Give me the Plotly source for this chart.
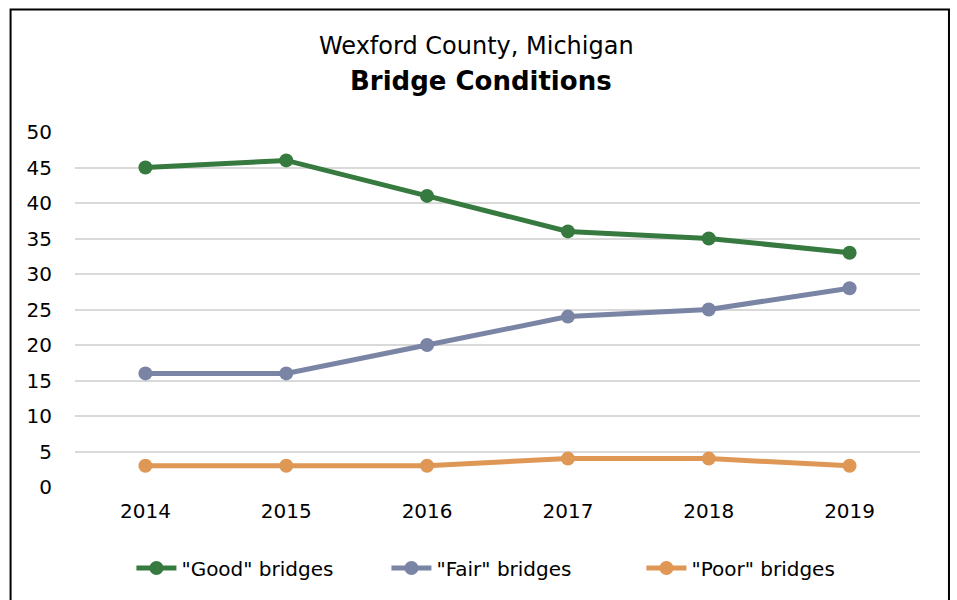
import plotly.graph_objects as go

years = ["2014", "2015", "2016", "2017", "2018", "2019"]
good = [45, 46, 41, 36, 35, 33]
fair = [16, 16, 20, 24, 25, 28]
poor = [3, 3, 3, 4, 4, 3]

series = [
    ('"Good" bridges', good, "#367A3F"),
    ('"Fair" bridges', fair, "#7A84A4"),
    ('"Poor" bridges', poor, "#DE9755"),
]

FONT = "DejaVu Sans"

fig = go.Figure()
for name, vals, color in series:
    fig.add_trace(go.Scatter(
        x=years, y=vals, name=name, mode="lines+markers",
        line=dict(color=color, width=5),
        marker=dict(color=color, size=14),
    ))

W, H = 957, 600
ml, mr, mt, mb = 74.5, 36.5, 132, 113
pw, ph = W - ml - mr, H - mt - mb

def px_x(x):
    return (x - ml) / pw

def px_y(y):
    return (H - mb - y) / ph

fig.update_layout(
    width=W, height=H,
    margin=dict(l=ml, r=mr, t=mt, b=mb),
    paper_bgcolor="white", plot_bgcolor="white",
    font=dict(family=FONT, size=20, color="#000000"),
    showlegend=True,
    legend=dict(
        orientation="h", x=px_x(131), xanchor="left",
        y=px_y(568), yanchor="middle",
        font=dict(size=20), itemwidth=40,
        entrywidth=200, entrywidthmode="pixels",
        traceorder="normal",
    ),
    xaxis=dict(
        range=[-0.5, 5.5],
        showgrid=False, showline=False, zeroline=False,
        ticks="", tickfont=dict(size=20), ticklabelstandoff=10,
    ),
    yaxis=dict(
        range=[0, 50], dtick=5, showgrid=True, gridcolor="#D9D9D9",
        gridwidth=1.5, zeroline=False, showline=False, ticks="",
        tickfont=dict(size=20), ticklabelstandoff=22,
    ),
    annotations=[
        dict(text="Wexford County, Michigan", xref="paper", yref="paper",
             x=px_x(476), y=px_y(46), xanchor="center", yanchor="middle",
             showarrow=False, font=dict(size=24, family=FONT)),
        dict(text="<b>Bridge Conditions</b>", xref="paper", yref="paper",
             x=px_x(481), y=px_y(81), xanchor="center", yanchor="middle",
             showarrow=False, font=dict(size=26, family=FONT)),
    ],
    shapes=[
        dict(type="rect", xref="paper", yref="paper",
             x0=px_x(10), x1=px_x(949.5), y0=px_y(620), y1=px_y(9.5),
             line=dict(color="#000000", width=2), layer="below"),
    ],
)

fig.write_html("out.html")
